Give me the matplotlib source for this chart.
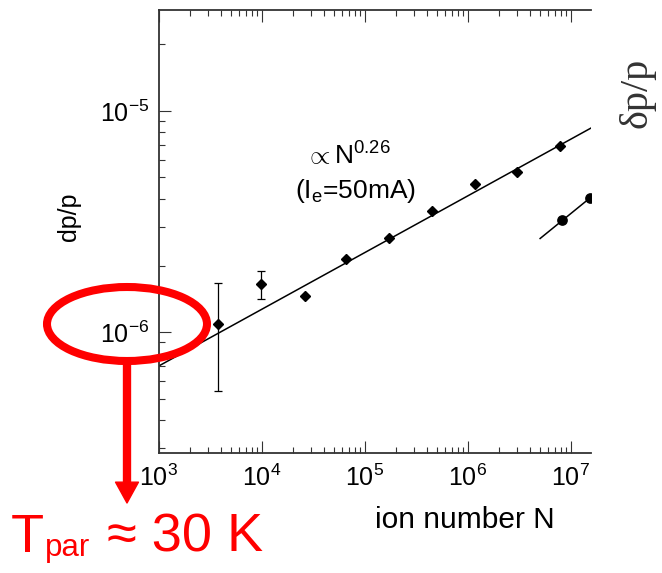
import matplotlib
matplotlib.use("Agg")
import matplotlib.pyplot as plt
from matplotlib.patches import Ellipse, FancyArrowPatch
from matplotlib.ticker import LogLocator, NullFormatter

plt.rcParams['font.family'] = ['Liberation Sans', 'DejaVu Sans']
plt.rcParams['mathtext.fontset'] = 'custom'
plt.rcParams['mathtext.rm'] = 'Liberation Sans'
plt.rcParams['mathtext.it'] = 'Liberation Sans:italic'
plt.rcParams['mathtext.bf'] = 'Liberation Sans:bold'

# ---- data ----
N_data = [3.8e3, 9.9e3, 2.63e4, 6.67e4, 1.72e5, 4.54e5, 1.19e6, 3.03e6, 7.94e6]
dp_data = [1.09e-6, 1.645e-6, 1.455e-6, 2.15e-6, 2.67e-6, 3.53e-6, 4.69e-6, 5.3e-6, 6.95e-6]

N_err = [3.8e3, 9.9e3]
dp_err_center = [1.09e-6, 1.645e-6]
dp_err_low = [5.41e-7, 1.406e-6]
dp_err_high = [1.667e-6, 1.89e-6]

N_fit = [1e3, 1.6e7]
dp_fit = [7.02e-7, 8.4e-6]

N_2 = [8.2e6, 1.54e7]
dp_2 = [3.2e-6, 4.03e-6]
N_2fit = [5.05e6, 1.6e7]
dp_2fit = [2.65e-6, 4.1e-6]

xtick_vals = [1e3, 1e4, 1e5, 1e6, 1e7]
xtick_labels = [r'$10^{3}$', r'$10^{4}$', r'$10^{5}$', r'$10^{6}$', r'$10^{7}$']
ytick_vals = [1e-6, 1e-5]
ytick_labels = [r'$10^{-6}$', r'$10^{-5}$']

W, H = 662, 573
fig = plt.figure(figsize=(W / 100, H / 100), dpi=100)
ax = fig.add_axes([158.5 / W, 1 - 452.5 / H, (591 - 158.5) / W, (452.5 - 10) / H])

ax.set_xscale('log')
ax.set_yscale('log')
ax.set_xlim(1e3, 10 ** 7.197)
ax.set_ylim(10 ** -6.544, 10 ** -4.544)

# fit lines
ax.plot(N_fit, dp_fit, color='black', lw=1.1)
ax.plot(N_2fit, dp_2fit, color='black', lw=1.1)

# error bars
yerr = [[c - l for c, l in zip(dp_err_center, dp_err_low)],
        [h - c for c, h in zip(dp_err_center, dp_err_high)]]
ax.errorbar(N_err, dp_err_center, yerr=yerr, fmt='none', ecolor='black',
            elinewidth=0.9, capsize=3.2, capthick=0.9)

# data
ax.plot(N_data, dp_data, linestyle='none', marker='D', markersize=4.8,
        color='black')
ax.plot(N_2, dp_2, linestyle='none', marker='o', markersize=6.7,
        color='black')

# ticks
ax.set_xticks(xtick_vals)
ax.set_xticklabels(xtick_labels)
ax.set_yticks(ytick_vals)
ax.set_yticklabels(ytick_labels)
ax.xaxis.set_minor_locator(LogLocator(base=10, subs=range(2, 10), numticks=20))
ax.yaxis.set_minor_locator(LogLocator(base=10, subs=range(2, 10), numticks=20))
ax.xaxis.set_minor_formatter(NullFormatter())
ax.yaxis.set_minor_formatter(NullFormatter())
ax.tick_params(which='both', direction='in', top=True, right=False,
               color='#333333')
ax.tick_params(which='major', length=8.6, width=0.8, labelsize=18)
ax.tick_params(which='minor', length=4.3, width=0.8)
ax.tick_params(axis='x', which='major', pad=8.5)
ax.tick_params(axis='y', which='major', pad=6.5)

for s in ['left', 'bottom', 'top']:
    ax.spines[s].set_color('#333333')
    ax.spines[s].set_linewidth(1.3)
ax.spines['right'].set_visible(False)

# labels
fig.text(465 / W, 1 - 528 / H, 'ion number N', fontsize=21.5,
         ha='center', va='baseline')
fig.text(69.5 / W, 1 - 217 / H, 'dp/p', fontsize=18, rotation=90,
         ha='center', va='center')

fig.text(348 / W, 1 - 165 / H, r'$\propto\mathregular{N^{0.26}}$',
         fontsize=19, ha='center', va='baseline')
fig.text(355 / W, 1 - 198 / H, r'(I$_{\mathregular{e}}$=50mA)',
         fontsize=19, ha='center', va='baseline')

fig.text(637 / W, 1 - 93 / H, 'δp/p', fontsize=29, rotation=90,
         family='Liberation Serif', color='#333333',
         ha='center', va='center')

# red annotations
red = '#ff0000'
ell = Ellipse((127 / W, 1 - 324 / H), 160 / W, 74 / H,
              transform=fig.transFigure, fill=False, edgecolor=red,
              linewidth=5.8, zorder=5)
fig.add_artist(ell)

arr = FancyArrowPatch((127 / W, 1 - 362 / H), (127 / W, 1 - 503 / H),
                      transform=fig.transFigure,
                      arrowstyle='simple,head_length=1.5,head_width=1.65,tail_width=0.5',
                      mutation_scale=10, color=red, shrinkA=0, shrinkB=0,
                      zorder=5)
fig.add_artist(arr)

fig.text(11 / W, 1 - 551.7 / H, 'T', fontsize=39, color=red,
         ha='left', va='baseline')
fig.text(45 / W, 1 - 556 / H, 'par', fontsize=22.5, color=red,
         ha='left', va='baseline')
fig.text(107 / W, 1 - 551.7 / H, '≈ 30 K', fontsize=39, color=red,
         ha='left', va='baseline')

fig.savefig('out.png', dpi=100)
